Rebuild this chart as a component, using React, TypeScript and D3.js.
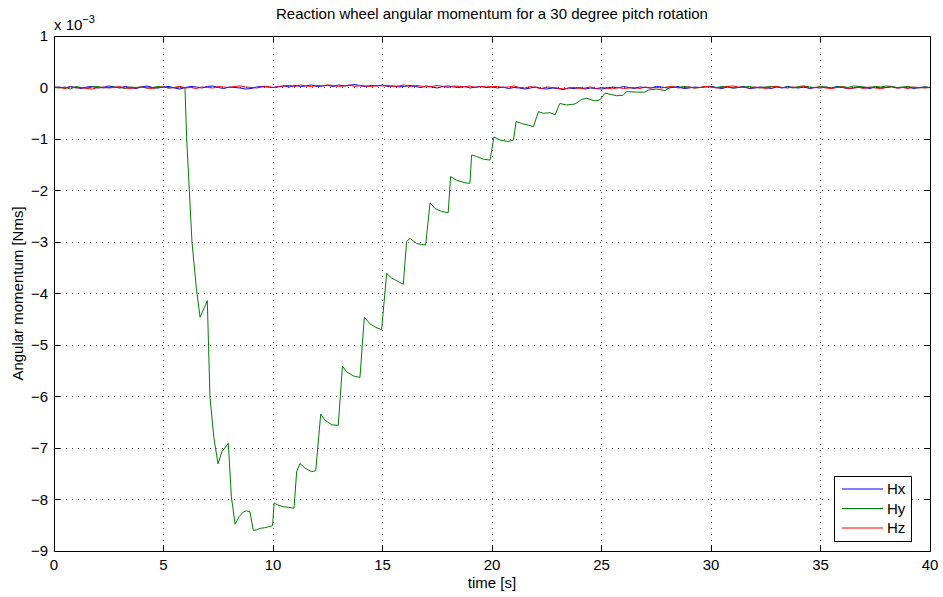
import React from "react";
import * as d3 from "d3";

const W = 943;
const H = 597;

const xTicks = [0, 5, 10, 15, 20, 25, 30, 35, 40];
const yTicks = [1, 0, -1, -2, -3, -4, -5, -6, -7, -8, -9];
const seriesNames = ["Hx", "Hy", "Hz"];
const seriesColors = ["#0000ff", "#008000", "#ff0000"];
const titleText = "Reaction wheel angular momentum for a 30 degree pitch rotation";
const xLabel = "time [s]";
const yLabel = "Angular momentum [Nms]";

// sampled every 0.25 s, values in 1e-3 Nms
const sampleStep = 0.25;
const hxValues = [
  0, 0.01, -0.01, 0.02, 0.0, -0.02, 0.01, 0.02, -0.01, 0.0, 0.03, 0.01, -0.01, 0.02, 0.0, -0.02, 0.01, 0.03, 0.0, -0.01, 0.01,
  0.02, -0.01, -0.03, 0.0, 0.02, 0.01, -0.01, 0.02, 0.03, 0.0, -0.02, 0.01, 0.0, -0.01, -0.03, -0.02, 0.01, 0.02, 0.01, 0.0,
  0.02, 0.03, 0.01, 0.04, 0.02, 0.03, 0.05, 0.02, 0.03, 0.04, 0.02, 0.05, 0.03, 0.04, 0.06, 0.03, 0.02, 0.04, 0.03, 0.05,
  0.02, 0.03, 0.01, 0.02, 0.04, 0.02, 0.0, 0.03, 0.01, -0.01, 0.02, 0.03, 0.01, 0.0, 0.02, -0.01, 0.01, 0.02, 0.0, 0.01,
  -0.01, 0.01, -0.02, 0.0, -0.01, -0.03, -0.01, 0.01, -0.02, -0.03, -0.01, -0.02, -0.04, -0.01, -0.02, 0.0, -0.03, -0.01, -0.02, -0.03,
  -0.01, 0.01, -0.01, 0.02, 0.0, -0.02, 0.01, 0.0, -0.01, 0.02, 0.01, -0.01, 0.0, 0.02, -0.02, -0.01, 0.01, 0.0, 0.01, 0.02,
  0.0, -0.02, 0.01, -0.01, 0.0, 0.02, -0.02, -0.01, 0.01, 0.0, -0.02, 0.01, -0.01, 0.02, 0.0, -0.01, 0.01, -0.02, 0.0, -0.01,
  0.01, -0.01, 0.02, 0.0, -0.02, -0.01, 0.01, 0.0, -0.02, 0.01, -0.01, 0.0, 0.02, -0.01, 0.0, 0.01, -0.02, 0.0, 0.01, 0.0,
];
const hzValues = [
  0.01, 0.0, -0.02, 0.01, -0.01, 0.0, -0.02, -0.03, 0.0, 0.01, -0.01, 0.0, 0.02, -0.01, -0.02, 0.0, 0.01, -0.01, -0.02, 0.0, 0.01,
  -0.01, 0.0, 0.02, -0.01, 0.0, -0.02, 0.01, 0.0, -0.01, 0.02, 0.01, 0.0, 0.02, 0.03, 0.01, 0.0, -0.01, 0.01, 0.02, 0.0,
  0.01, 0.03, 0.04, 0.02, 0.05, 0.03, 0.02, 0.04, 0.03, 0.05, 0.04, 0.02, 0.03, 0.05, 0.02, 0.04, 0.03, 0.02, 0.04, 0.03,
  0.04, 0.02, 0.03, 0.05, 0.02, 0.04, 0.03, 0.01, 0.02, 0.04, 0.02, 0.0, 0.03, 0.02, 0.01, 0.03, 0.0, 0.02, 0.01, 0.02,
  0.02, 0.0, 0.01, 0.03, 0.0, -0.01, 0.02, 0.0, -0.02, 0.01, 0.0, -0.01, -0.03, -0.01, 0.0, -0.02, -0.01, 0.01, -0.02, 0.0,
  -0.01, -0.03, 0.0, -0.02, -0.01, 0.0, -0.02, 0.01, -0.01, 0.0, -0.01, 0.01, 0.02, -0.01, 0.0, 0.01, -0.01, 0.0, 0.02, 0.01,
  -0.01, 0.0, 0.02, 0.03, 0.01, 0.0, -0.01, 0.01, 0.0, -0.02, 0.01, 0.02, 0.0, -0.01, 0.01, 0.0, 0.02, -0.01, 0.0, 0.01,
  -0.01, -0.02, 0.0, 0.01, -0.02, -0.01, 0.0, -0.02, 0.01, -0.01, -0.02, 0.0, 0.01, -0.01, 0.0, -0.02, 0.01, 0.0, -0.01, 0.0,
];

// Hy: quiet before the manoeuvre (t = 0 .. 5.75)
const hyPreValues = [
  0.0, -0.01, 0.01, -0.03, 0.02, 0.0, -0.01, 0.01, 0.02, -0.01, 0.0, 0.01,
  0.0, -0.02, 0.01, 0.0, 0.01, -0.01, 0.0, 0.02, 0.01, -0.01, 0.0, 0.01,
];
// Hy: manoeuvre
const hyTime = [
  5.98, 6.06, 6.18, 6.3, 6.5, 6.67, 7.0, 7.05, 7.12, 7.3, 7.49, 7.67, 7.96, 8.1, 8.27, 8.46, 8.65, 8.79, 8.95,
  9.1, 9.25, 9.4, 9.6, 9.8, 9.98, 10.05, 10.24, 10.47, 10.7, 10.96, 11.08, 11.23, 11.46, 11.77, 11.95,
  12.18, 12.37, 12.68, 12.98, 13.17, 13.36, 13.67, 13.97, 14.17, 14.43, 14.7, 14.96, 15.19, 15.42, 15.72, 15.95,
  16.1, 16.26, 16.56, 16.97, 17.17, 17.4, 17.7, 18.0, 18.11, 18.38, 18.76, 18.99, 19.07, 19.3, 19.6, 19.91,
  20.09, 20.37, 20.75, 20.98, 21.1, 21.36, 21.66, 21.89, 22.12, 22.35, 22.65, 22.88, 23.1, 23.4, 23.79,
  24.1, 24.32, 24.7, 24.93, 25.16, 25.39, 25.69, 25.99, 26.15, 26.6, 26.98, 27.14, 27.52, 27.9, 28.13,
];
const hyValue = [
  0.0, -1.0, -2.0, -3.0, -3.9, -4.46, -4.14, -4.9, -6.0, -6.8, -7.31, -7.07, -6.91, -7.95, -8.48, -8.33, -8.24, -8.22, -8.24,
  -8.6, -8.59, -8.56, -8.55, -8.53, -8.51, -8.07, -8.11, -8.14, -8.15, -8.17, -7.46, -7.3, -7.39, -7.46, -7.44,
  -6.34, -6.46, -6.55, -6.56, -5.41, -5.52, -5.6, -5.63, -4.46, -4.59, -4.66, -4.7, -3.61, -3.7, -3.77, -3.82,
  -2.99, -2.93, -3.03, -3.06, -2.24, -2.35, -2.41, -2.43, -1.73, -1.8, -1.85, -1.86, -1.31, -1.34, -1.39, -1.41,
  -0.96, -1.02, -1.05, -1.02, -0.66, -0.7, -0.73, -0.76, -0.47, -0.5, -0.49, -0.53, -0.31, -0.34, -0.32,
  -0.23, -0.21, -0.26, -0.24, -0.11, -0.13, -0.16, -0.15, -0.08, -0.09, -0.09, -0.05, -0.03, -0.06, 0.0,
];
// Hy: quiet after (t = 28.25 .. 40)
const hyPostStart = 28.25;
const hyPostValues = [
  0.01, 0.0, 0.02, 0.01, -0.01, 0.0, 0.02, 0.01, 0.0, 0.02, 0.01, -0.01,
  0.0, 0.01, 0.02, 0.0, -0.01, 0.01, 0.02, 0.01, 0.0, 0.01, -0.01, 0.02,
  0.03, 0.01, 0.0, 0.02, 0.01, -0.01, 0.01, 0.02, 0.0, 0.03, 0.02, 0.01,
  0.0, 0.02, 0.01, 0.03, 0.02, 0.0, 0.01, 0.02, 0.0, -0.01, 0.01, 0.0,
];

const x0 = 54, x1 = 930, y0 = 36, y1 = 551;
const FONT = "'Liberation Sans', Arial, Helvetica, sans-serif";

type Pt = [number, number];

export default function App() {
  const x = d3.scaleLinear().domain([0, 40]).range([x0, x1]);
  const y = d3.scaleLinear().domain([-9, 1]).range([y1, y0]);
  const line = d3.line<Pt>().x((d) => x(d[0])).y((d) => y(d[1]));

  const hx: Pt[] = hxValues.map((v, i) => [i * sampleStep, v]);
  const hz: Pt[] = hzValues.map((v, i) => [i * sampleStep, v]);
  const hy: Pt[] = [
    ...hyPreValues.map((v, i) => [i * sampleStep, v] as Pt),
    ...hyTime.map((t, i) => [t, hyValue[i]] as Pt),
    ...hyPostValues.map((v, i) => [hyPostStart + i * sampleStep, v] as Pt),
  ];
  const series = [hx, hy, hz];

  const tick = 6;
  const fmt = (v: number) => (v < 0 ? "\u2212" + Math.abs(v) : String(v));

  const lx = 834, ly = 476, lw = 77, lh = 65;

  return (
    <svg width={W} height={H} style={{ position: "absolute", left: 0, top: 0, background: "#fff" }} fontFamily={FONT}>
      <rect x={0} y={0} width={W} height={H} fill="#fff" />
      {/* grid */}
      <g stroke="#555" strokeWidth={1} strokeDasharray="1,5" shapeRendering="crispEdges">
        {xTicks.slice(1, -1).map((t) => (
          <line key={"gx" + t} x1={x(t)} x2={x(t)} y1={y0} y2={y1} />
        ))}
        {yTicks.slice(1, -1).map((t) => (
          <line key={"gy" + t} x1={x0} x2={x1} y1={y(t)} y2={y(t)} />
        ))}
      </g>
      {/* ticks */}
      <g stroke="#000" strokeWidth={1} shapeRendering="crispEdges">
        {xTicks.map((t) => (
          <g key={"tx" + t}>
            <line x1={x(t)} x2={x(t)} y1={y1} y2={y1 - tick} />
            <line x1={x(t)} x2={x(t)} y1={y0} y2={y0 + tick} />
          </g>
        ))}
        {yTicks.map((t) => (
          <g key={"ty" + t}>
            <line x1={x0} x2={x0 + tick} y1={y(t)} y2={y(t)} />
            <line x1={x1} x2={x1 - tick} y1={y(t)} y2={y(t)} />
          </g>
        ))}
      </g>
      {/* data */}
      <g fill="none" strokeWidth={1}>
        {series.map((s, i) => (
          <path key={seriesNames[i]} d={line(s) || ""} stroke={seriesColors[i]} />
        ))}
      </g>
      {/* box */}
      <rect x={x0} y={y0} width={x1 - x0} height={y1 - y0} fill="none" stroke="#000" strokeWidth={1} shapeRendering="crispEdges" />
      {/* tick labels */}
      <g fontSize={15} fill="#000">
        {xTicks.map((t) => (
          <text key={"lx" + t} x={x(t)} y={y1 + 19} textAnchor="middle">{fmt(t)}</text>
        ))}
        {yTicks.map((t) => (
          <text key={"ly" + t} x={x0 - 6} y={y(t) + 5} textAnchor="end">{fmt(t)}</text>
        ))}
      </g>
      {/* exponent */}
      <text x={x0} y={30} fontSize={15} fill="#000">
        x 10<tspan dy={-7} fontSize={11}>{"\u22123"}</tspan>
      </text>
      {/* title and labels */}
      <text x={(x0 + x1) / 2} y={19} fontSize={15} textAnchor="middle" fill="#000">{titleText}</text>
      <text x={(x0 + x1) / 2} y={588} fontSize={15} textAnchor="middle" fill="#000">{xLabel}</text>
      <text transform={`translate(23, ${(y0 + y1) / 2}) rotate(-90)`} fontSize={15} textAnchor="middle" fill="#000">{yLabel}</text>
      {/* legend */}
      <rect x={lx} y={ly} width={lw} height={lh} fill="#fff" stroke="#000" strokeWidth={1} shapeRendering="crispEdges" />
      {seriesNames.map((n, i) => (
        <g key={"leg" + n}>
          <line x1={lx + 8} x2={lx + 49} y1={ly + 13 + i * 19.5} y2={ly + 13 + i * 19.5} stroke={seriesColors[i]} strokeWidth={1} />
          <text x={lx + 53} y={ly + 18 + i * 19.5} fontSize={15} fill="#000">{n}</text>
        </g>
      ))}
    </svg>
  );
}
